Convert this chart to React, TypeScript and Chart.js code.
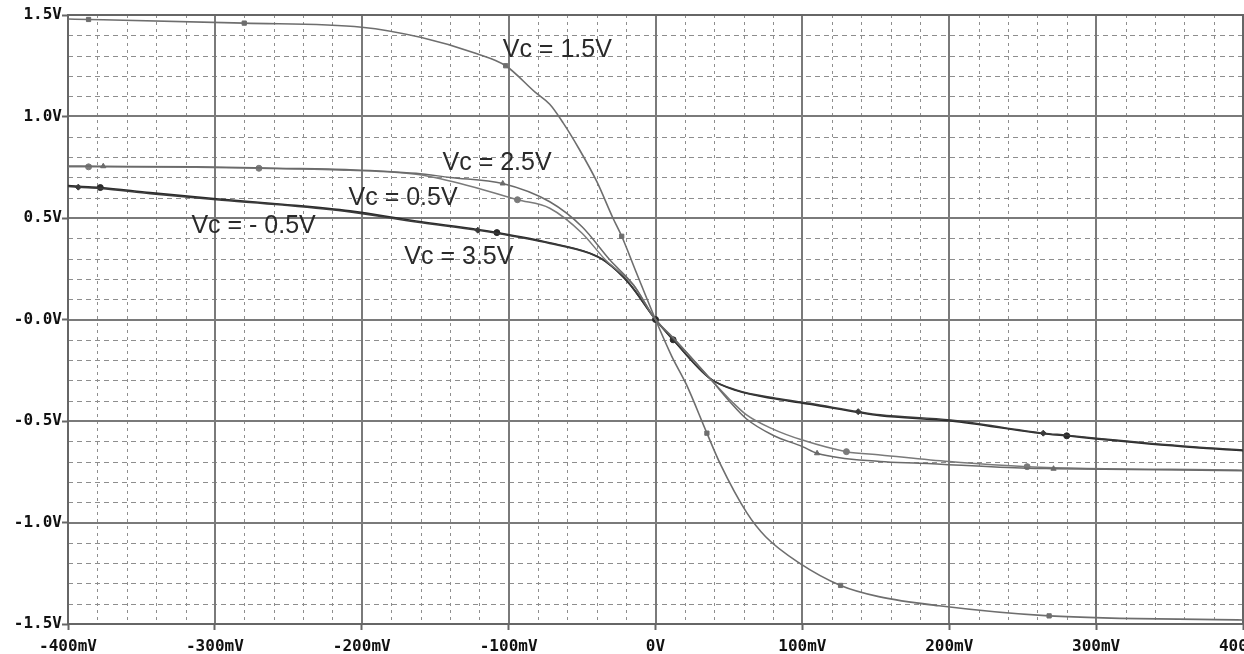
import { useEffect, useRef } from "react";
import { Chart, registerables } from "chart.js";

Chart.register(...registerables);

// ---- tick labels ----
const X_TICKS = [-400, -300, -200, -100, 0, 100, 200, 300, 400];
const X_TICK_LABELS = ["-400mV", "-300mV", "-200mV", "-100mV", "0V", "100mV", "200mV", "300mV", "400mV"];
const Y_TICKS = [-1.5, -1.0, -0.5, 0, 0.5, 1.0, 1.5];
const Y_TICK_LABELS = ["-1.5V", "-1.0V", "-0.5V", "-0.0V", "0.5V", "1.0V", "1.5V"];

// ---- series (x in mV, y in V) ----
const X_15 = [-400, -386, -280, -200, -160, -122, -102, -82, -72, -63, -52, -40, -29, -23, -13, 0, 11, 21, 35, 44, 62, 75, 98, 126, 152, 193, 268, 400];
const Y_15 = [1.48, 1.478, 1.46, 1.44, 1.39, 1.31, 1.25, 1.12, 1.06, 0.97, 0.84, 0.68, 0.5, 0.41, 0.23, 0, -0.18, -0.32, -0.56, -0.71, -0.95, -1.07, -1.2, -1.31, -1.365, -1.41, -1.46, -1.48];
const M_15 = [-386, -280, -102, -23, 35, 126, 268];

const X_25 = [-400, -376, -313, -258, -208, -163, -140, -104, -72, -50, -31, -15, 0, 12, 37, 50, 62, 80, 100, 110, 153, 180, 253, 271, 400];
const Y_25 = [0.756, 0.755, 0.752, 0.745, 0.738, 0.72, 0.7, 0.67, 0.58, 0.457, 0.293, 0.17, 0, -0.09, -0.29, -0.4, -0.49, -0.57, -0.626, -0.659, -0.7, -0.708, -0.733, -0.735, -0.745];
const M_25 = [-376, -104, 110, 271];

const X_05 = [-400, -386, -313, -270, -208, -163, -133, -94, -72, -50, -34, -15, 0, 12, 37, 50, 62, 80, 100, 130, 153, 200, 253, 400];
const Y_05 = [0.752, 0.752, 0.75, 0.745, 0.735, 0.715, 0.67, 0.59, 0.548, 0.425, 0.293, 0.17, 0, -0.09, -0.29, -0.39, -0.47, -0.54, -0.594, -0.651, -0.667, -0.7, -0.725, -0.742];
const M_05 = [-386, -270, -94, 130, 253];

const X_M05 = [-400, -393, -378, -344, -299, -254, -208, -163, -121, -108, -72, -45, -34, -18, 0, 12, 37, 55, 82, 105, 138, 153, 201, 264, 280, 300, 366, 400];
const Y_M05 = [0.656, 0.652, 0.646, 0.62, 0.59, 0.564, 0.53, 0.48, 0.44, 0.425, 0.375, 0.326, 0.285, 0.178, 0, -0.1, -0.29, -0.347, -0.388, -0.413, -0.454, -0.47, -0.495, -0.56, -0.57, -0.585, -0.627, -0.643];
const M_M05 = [-393, -121, 138, 264];

const X_35 = [-400, -393, -378, -344, -299, -254, -208, -163, -121, -108, -72, -45, -34, -18, 0, 12, 37, 55, 82, 105, 138, 153, 201, 264, 280, 300, 366, 400];
const Y_35 = [0.66, 0.656, 0.65, 0.625, 0.595, 0.568, 0.535, 0.485, 0.443, 0.428, 0.378, 0.328, 0.287, 0.178, 0, -0.1, -0.29, -0.35, -0.392, -0.417, -0.458, -0.474, -0.5, -0.563, -0.573, -0.588, -0.63, -0.646];
const M_35 = [-378, -108, 0, 12, 280];

// ---- curve annotations (left/baseline anchor, data coords) ----
const LABEL_TEXTS = ["Vc = 1.5V", "Vc = 2.5V", "Vc = 0.5V", "Vc = - 0.5V", "Vc = 3.5V"];
const LABEL_X = [-104, -145, -209, -316, -171];
const LABEL_Y = [1.293, 0.736, 0.564, 0.426, 0.273];

const makeData = (xs: number[], ys: number[]) => xs.map((x, i) => ({ x, y: ys[i] }));

const gridPlugin = {
  id: "pspiceGrid",
  beforeDatasetsDraw(chart: any) {
    const { ctx, chartArea: a, scales } = chart;
    const xs = scales.x;
    const ys = scales.y;
    ctx.save();
    ctx.lineWidth = 1;
    ctx.strokeStyle = "#8e8e8e";
    // minor vertical
    ctx.setLineDash([3, 4]);
    for (let i = 0; i <= 40; i++) {
      if (i % 5 === 0) continue;
      const v = -400 + i * 20;
      const px = Math.round(xs.getPixelForValue(v)) + 0.5;
      ctx.beginPath();
      ctx.moveTo(px, a.top);
      ctx.lineTo(px, a.bottom);
      ctx.stroke();
    }
    // minor horizontal
    ctx.setLineDash([5, 4]);
    for (let i = 0; i <= 30; i++) {
      if (i % 5 === 0) continue;
      const v = -1.5 + i * 0.1;
      const py = Math.round(ys.getPixelForValue(v)) + 0.5;
      ctx.beginPath();
      ctx.moveTo(a.left, py);
      ctx.lineTo(a.right, py);
      ctx.stroke();
    }
    // major lines
    ctx.setLineDash([]);
    ctx.lineWidth = 2;
    ctx.strokeStyle = "#7a7a7a";
    X_TICKS.forEach((v) => {
      const px = Math.round(xs.getPixelForValue(v));
      ctx.beginPath();
      ctx.moveTo(px, a.top);
      ctx.lineTo(px, a.bottom);
      ctx.stroke();
    });
    Y_TICKS.forEach((v) => {
      const py = Math.round(ys.getPixelForValue(v));
      ctx.beginPath();
      ctx.moveTo(a.left, py);
      ctx.lineTo(a.right, py);
      ctx.stroke();
    });
    ctx.strokeStyle = "#666";
    ctx.strokeRect(a.left, a.top, a.right - a.left, a.bottom - a.top);
    ctx.restore();
  },
};

const labelPlugin = {
  id: "curveLabels",
  afterDatasetsDraw(chart: any) {
    const { ctx, scales } = chart;
    ctx.save();
    ctx.font = '25px "Liberation Sans", Arial, sans-serif';
    ctx.fillStyle = "#2a2a2a";
    ctx.textAlign = "left";
    ctx.textBaseline = "alphabetic";
    LABEL_TEXTS.forEach((t, i) => {
      ctx.fillText(t, scales.x.getPixelForValue(LABEL_X[i]), scales.y.getPixelForValue(LABEL_Y[i]));
    });
    ctx.restore();
  },
};

const series = (
  xs: number[],
  ys: number[],
  markers: number[],
  color: string,
  width: number,
  style: string
) => ({
  data: makeData(xs, ys),
  borderColor: color,
  backgroundColor: color,
  borderWidth: width,
  cubicInterpolationMode: "monotone",
  pointStyle: style,
  pointRadius: (c: any) => (c.raw && markers.includes(c.raw.x) ? 3 : 0),
  pointBorderColor: color,
  pointBackgroundColor: color,
  pointBorderWidth: 1,
  fill: false,
});

export default function App() {
  const ref = useRef<HTMLCanvasElement>(null);
  useEffect(() => {
    const tickFont = { family: '"DejaVu Sans Mono", monospace', size: 16, weight: "bold" as const };
    const chart = new Chart(ref.current!, {
      type: "line",
      data: {
        datasets: [
          series(X_15, Y_15, M_15, "#6e6e6e", 1.6, "rect"),
          series(X_25, Y_25, M_25, "#6a6a6a", 1.5, "triangle"),
          series(X_05, Y_05, M_05, "#7a7a7a", 1.5, "circle"),
          series(X_M05, Y_M05, M_M05, "#3a3a3a", 1.6, "rectRot"),
          series(X_35, Y_35, M_35, "#2a2a2a", 1.6, "circle"),
        ] as any,
      },
      options: {
        animation: false,
        responsive: false,
        devicePixelRatio: 1,
        layout: { padding: { top: 15, right: 1, left: 0, bottom: 0 } },
        plugins: { legend: { display: false }, tooltip: { enabled: false } },
        events: [],
        scales: {
          x: {
            type: "linear",
            min: -400,
            max: 400,
            afterBuildTicks: (s: any) => {
              s.ticks = X_TICKS.map((v) => ({ value: v }));
            },
            afterFit: (s: any) => {
              s.height = 30;
              s.paddingLeft = 0;
              s.paddingRight = 0;
            },
            grid: { drawOnChartArea: false, drawTicks: true, tickLength: 6, tickColor: "#666", tickWidth: 2 },
            border: { display: false },
            ticks: {
              autoSkip: false,
              maxRotation: 0,
              padding: 7,
              color: "#111",
              font: tickFont,
              callback: (_v: any, i: number) => X_TICK_LABELS[i],
            },
          },
          y: {
            type: "linear",
            min: -1.5,
            max: 1.5,
            afterBuildTicks: (s: any) => {
              s.ticks = Y_TICKS.map((v) => ({ value: v }));
            },
            afterFit: (s: any) => {
              s.width = 68;
              s.paddingTop = 0;
              s.paddingBottom = 0;
            },
            grid: { drawOnChartArea: false, drawTicks: true, tickLength: 6, tickColor: "#666", tickWidth: 2 },
            border: { display: false },
            ticks: {
              autoSkip: false,
              padding: 0,
              color: "#111",
              font: tickFont,
              callback: (_v: any, i: number) => Y_TICK_LABELS[i],
            },
          },
        },
      } as any,
      plugins: [gridPlugin, labelPlugin],
    });
    return () => chart.destroy();
  }, []);
  return (
    <canvas
      ref={ref}
      width={1244}
      height={654}
      style={{ position: "absolute", left: 0, top: 0, display: "block" }}
    />
  );
}
